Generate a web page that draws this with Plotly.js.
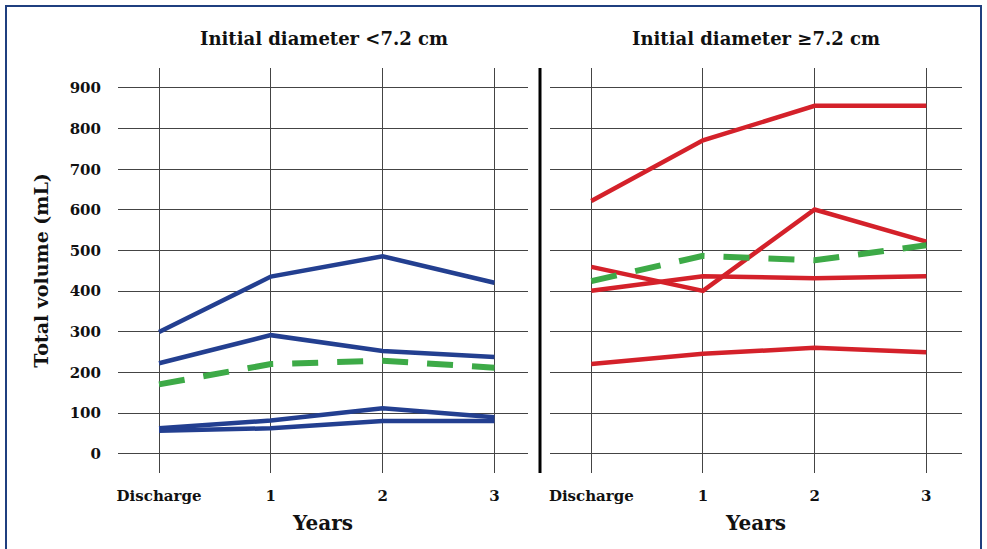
<!DOCTYPE html>
<html>
<head>
<meta charset="utf-8">
<script src="https://cdn.plot.ly/plotly-3.0.1.min.js"></script>
<style>
html,body{margin:0;padding:0;background:#fff;}
#wrap{position:relative;width:987px;height:549px;}
#chart{width:987px;height:549px;}
#frame{position:absolute;left:5px;top:5px;width:977px;height:548px;border:2px solid #1f3f7f;box-sizing:border-box;pointer-events:none;}
</style>
</head>
<body>
<div id="wrap"><div id="chart"></div><div id="frame"></div></div>
<script>
const categories = ["Discharge", "1", "2", "3"];
const xPos = [0, 1, 2, 3];

// Initial diameter <7.2 cm (blue patients)
const smallA = [300, 436, 486, 421];
const smallB = [223, 292, 253, 238];
const smallC = [63, 82, 112, 90];
const smallD = [57, 63, 81, 81];
const smallMean = [171, 221, 229, 212];

// Initial diameter >=7.2 cm (red patients)
const largeA = [622, 771, 856, 856];
const largeB = [460, 401, 601, 522];
const largeC = [401, 437, 432, 437];
const largeD = [221, 246, 261, 250];
const largeMean = [425, 487, 476, 513];

const yTicks = [0, 100, 200, 300, 400, 500, 600, 700, 800, 900];

const BLUE = "#233f90";
const RED = "#d4212a";
const GREEN = "#3daa47";
const FONT = "DejaVu Serif";

function line(y, color, xa, ya) {
  return {x: xPos, y: y, type: "scatter", mode: "lines", xaxis: xa, yaxis: ya,
    line: {color: color, width: 4.5}, showlegend: false, hoverinfo: "y"};
}
function mean(y, xa, ya) {
  return {x: xPos, y: y, type: "scatter", mode: "lines", xaxis: xa, yaxis: ya,
    line: {color: GREEN, width: 6, dash: "26px,19px"}, showlegend: false, hoverinfo: "y"};
}

const traces = [
  line(smallA, BLUE, "x", "y"), line(smallB, BLUE, "x", "y"),
  line(smallC, BLUE, "x", "y"), line(smallD, BLUE, "x", "y"),
  mean(smallMean, "x", "y"),
  line(largeA, RED, "x2", "y2"), line(largeB, RED, "x2", "y2"),
  line(largeC, RED, "x2", "y2"), line(largeD, RED, "x2", "y2"),
  mean(largeMean, "x2", "y2")
];

const W = 987, H = 549;
const yDom = [(H - 473) / H, (H - 68) / H];
const xCommon = {
  range: [-0.367, 3.3], tickvals: xPos, ticktext: categories,
  showgrid: true, gridcolor: "#444", gridwidth: 1, zeroline: false, showline: false,
  ticks: "outside", ticklen: 9, tickcolor: "rgba(0,0,0,0)",
  tickfont: {family: FONT, size: 15, color: "#111", weight: "bold"},
  title: {text: "<b>Years</b>", font: {family: FONT, size: 20, color: "#111"}, standoff: 11},
  fixedrange: true
};
const yCommon = {
  range: [-47, 949], tickvals: yTicks, domain: yDom,
  showgrid: true, gridcolor: "#444", gridwidth: 1, zeroline: false, showline: false,
  ticks: "outside", ticklen: 13, tickcolor: "rgba(0,0,0,0)",
  tickfont: {family: FONT, size: 15, color: "#111", weight: "bold"},
  fixedrange: true
};

const layout = {
  width: W, height: H,
  margin: {l: 0, r: 0, t: 0, b: 0},
  paper_bgcolor: "#fff", plot_bgcolor: "#fff",
  xaxis: Object.assign({}, xCommon, {domain: [118 / W, 528 / W], anchor: "y"}),
  yaxis: Object.assign({}, yCommon, {anchor: "x",
    title: {text: "<b>Total volume (mL)</b>", font: {family: FONT, size: 19, color: "#111"}, standoff: 16}}),
  xaxis2: Object.assign({}, xCommon, {domain: [550 / W, 962 / W], range: [-0.37, 3.32], anchor: "y2"}),
  yaxis2: Object.assign({}, yCommon, {anchor: "x2", showticklabels: false}),
  annotations: [
    {text: "<b>Initial diameter <7.2 cm</b>", xref: "paper", yref: "paper",
      x: 324 / W, y: (H - 38) / H, xanchor: "center", yanchor: "middle", showarrow: false,
      font: {family: FONT, size: 18, color: "#111"}},
    {text: "<b>Initial diameter ≥7.2 cm</b>", xref: "paper", yref: "paper",
      x: 756 / W, y: (H - 38) / H, xanchor: "center", yanchor: "middle", showarrow: false,
      font: {family: FONT, size: 18, color: "#111"}}
  ],
  shapes: [
    {type: "line", xref: "paper", yref: "paper", x0: 540 / W, x1: 540 / W,
      y0: yDom[0], y1: yDom[1], line: {color: "#000", width: 3}}
  ]
};

Plotly.newPlot("chart", traces, layout, {displayModeBar: false, staticPlot: true});
</script>
</body>
</html>
